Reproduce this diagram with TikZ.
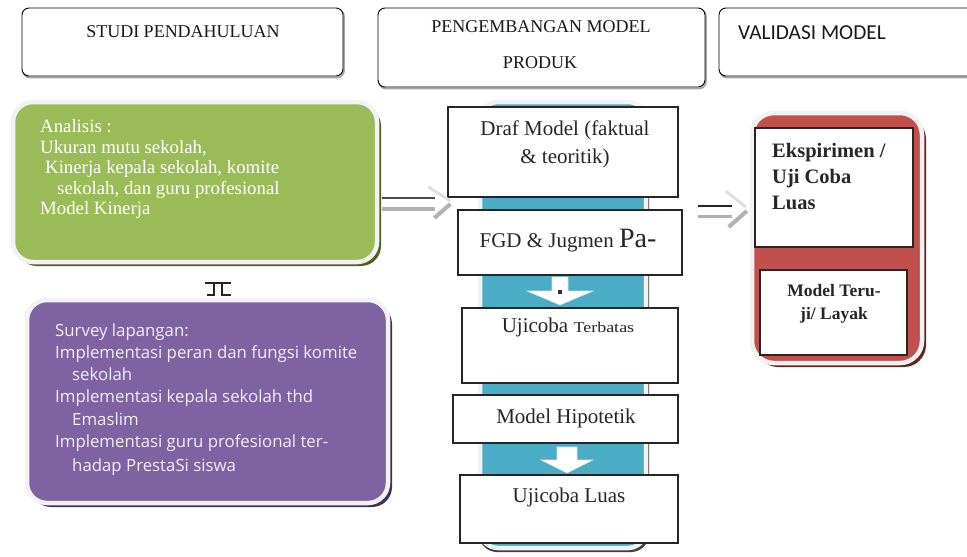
\documentclass[tikz,border=0pt]{standalone}
\usepackage{fontspec}
\usepackage{graphicx}
\setmainfont{Liberation Serif}
\newfontfamily\hdsans{Carlito}
\newfontfamily\opsans{Open Sans}
\usetikzlibrary{calc}
\definecolor{grn}{HTML}{9BBB59}
\definecolor{grnsh}{HTML}{4F6228}
\definecolor{purp}{HTML}{7F62A1}
\definecolor{purpsh}{HTML}{3F3151}
\definecolor{teal}{HTML}{4BACC6}
\definecolor{redb}{HTML}{C0504D}
\definecolor{redsh}{HTML}{632523}
\definecolor{lav}{HTML}{F2EFF7}
\definecolor{rim}{HTML}{F2F2F2}
\begin{document}
\begin{tikzpicture}[x=1pt,y=-1pt,
  hdrbox/.style={draw=black, line width=0.9pt, rounded corners=7pt, fill=white, inner sep=0pt},
  hdrshadow/.style={draw=gray!70, line width=1.8pt, rounded corners=7pt, inner sep=0pt},
  hdrtxt/.style={font=\fontsize{18}{22}\selectfont, inner sep=0pt, text=black!90},
  panelsh/.style={rounded corners=20pt, inner sep=0pt},
  panel/.style={draw=rim, line width=4.5pt, rounded corners=20pt, inner sep=0pt},
  stepbox/.style={draw=black!85, line width=1.3pt, fill=white, inner sep=0pt},
  steptxt/.style={font=\fontsize{21}{28}\selectfont, align=center, inner sep=0pt, text=black!85},
  downarr/.style={fill=white, draw=gray!25, line width=0.6pt},
]
\useasboundingbox (0,0) rectangle (967,557);
\fill[white] (0,0) rectangle (967,557);

% ---------- header boxes ----------
\node[hdrshadow, minimum width=321pt, minimum height=68pt] (h1s) at (183.5,43.5) {};
\node[hdrbox, minimum width=321pt, minimum height=68pt] (h1) at (182.5,42) {};
\node[hdrshadow, minimum width=327pt, minimum height=79pt] (h2s) at (542.5,49) {};
\node[hdrbox, minimum width=327pt, minimum height=79pt] (h2) at (541.5,47.5) {};
\node[hdrshadow, minimum width=271pt, minimum height=68pt] (h3s) at (855.5,43.5) {};
\node[hdrbox, minimum width=271pt, minimum height=68pt] (h3) at (854.5,42) {};

\node[hdrtxt] (t1) at (183,32) {STUDI PENDAHULUAN};
\node[hdrtxt] (t2a) at (541,27) {PENGEMBANGAN MODEL};
\node[hdrtxt] (t2b) at (540,63) {PRODUK};
\node[hdrtxt, anchor=west, font=\hdsans\fontsize{21.3}{22}\selectfont] (t3) at (738,33) {VALIDASI MODEL};

% ---------- green box ----------
\node[panelsh, fill=grnsh, minimum width=364pt, minimum height=160pt] (greensh) at (199,186) {};
\node[panel, fill=grn, minimum width=364pt, minimum height=160pt] (green) at (195,182) {};
\node[anchor=west, align=left, inner sep=0pt, text=white,
      font=\fontsize{18.8}{20.5}\selectfont] (gtext) at (40,169)
  {Analisis :\\
   Ukuran mutu sekolah,\\
   \hspace*{5pt}Kinerja kepala sekolah, komite\\
   \hspace*{17pt}sekolah, dan guru profesional\\
   Model Kinerja};

% ---------- purple box ----------
\node[panelsh, fill=purpsh, minimum width=361pt, minimum height=203pt] (purpsh) at (211.5,405.5) {};
\node[panel, fill=purp, minimum width=361pt, minimum height=203pt] (purple) at (207.5,401.5) {};
\node[anchor=west, align=left, inner sep=0pt, text=lav,
      font=\opsans\fontsize{16.8}{22.2}\selectfont] (ptext) at (55,399.5)
  {Survey lapangan:\\
   Implementasi peran dan fungsi komite\\
   \hspace*{17pt}sekolah\\
   Implementasi kepala sekolah thd\\
   \hspace*{17pt}Emaslim\\
   Implementasi guru profesional ter-\\[2pt]
   \hspace*{17pt}hadap PrestaSi siswa};

% connector symbol between green and purple
\coordinate (gp) at ($(green.south)!0.5!(purple.north)+(17,8)$);
\draw[black!85, line width=1.6pt]
  ($(gp)+(-13,-6)$) -- ($(gp)+(-4,-6)$) -- ($(gp)+(-4,6)$) -- ($(gp)+(-11,6)$)
  ($(gp)+(-4,-6)$) -- ($(gp)+(4,-6)$) -- ($(gp)+(4,6)$) -- ($(gp)+(13,6)$)
  ($(gp)+(4,-6)$) -- ($(gp)+(13,-6)$);

% ---------- middle panel ----------
\node[panelsh, fill=black!75, minimum width=170pt, minimum height=446pt, rounded corners=18pt] (midsh) at (564,329) {};
\node[panel, fill=teal, minimum width=166pt, minimum height=446pt, rounded corners=18pt] (mid) at (563,325) {};

% down arrows inside panel
\coordinate (d1) at (560,305);
\draw[downarr] ($(d1)+(-8,-28)$) -- ($(d1)+(-8,-14)$) -- ($(d1)+(-33,-14)$) -- (d1)
  -- ($(d1)+(33,-14)$) -- ($(d1)+(8,-14)$) -- ($(d1)+(8,-28)$) -- cycle;
\fill[black!80] ($(d1)+(-2,-15)$) rectangle ($(d1)+(2,-11)$);
\coordinate (d2) at (567,473);
\draw[downarr] ($(d2)+(-10,-26)$) -- ($(d2)+(-10,-13)$) -- ($(d2)+(-26,-13)$) -- (d2)
  -- ($(d2)+(26,-13)$) -- ($(d2)+(10,-13)$) -- ($(d2)+(10,-26)$) -- cycle;

\node[stepbox, minimum width=230pt, minimum height=90pt] (draf) at (563,152) {};
\node[steptxt] (draft) at (565,144) {Draf Model (faktual\\\& teoritik)};

\node[stepbox, minimum width=224pt, minimum height=65pt] (fgd) at (570,242.5) {};
\node[steptxt] (fgdt) at (568,241) {FGD \& Jugmen {\fontsize{28}{28}\selectfont Pa-}};

\node[stepbox, minimum width=216pt, minimum height=75pt] (ujt) at (570,345.5) {};
\node[steptxt] (ujtt) at (568,327) {Ujicoba \scalebox{1.2}[1]{\fontsize{15}{15}\selectfont Terbatas}};

\node[stepbox, minimum width=225pt, minimum height=48pt] (hip) at (565.5,419) {};
\node[steptxt] (hipt) at (566,418) {Model Hipotetik};

\node[stepbox, minimum width=218pt, minimum height=68pt] (luas) at (569,509) {};
\node[steptxt] (luast) at (569,497) {Ujicoba Luas};

% ---------- red box ----------
\node[panelsh, fill=redsh, minimum width=170pt, minimum height=250pt, rounded corners=22pt] (redsh) at (841,242) {};
\node[panel, fill=redb, minimum width=170pt, minimum height=250pt, rounded corners=22pt] (red) at (837,238) {};
\node[stepbox, minimum width=158pt, minimum height=119pt] (eks) at (834,187.5) {};
\node[anchor=west, align=left, inner sep=0pt, text=black!85,
      font=\bfseries\fontsize{20.5}{26}\selectfont] (ekst) at (772,176.5)
  {Ekspirimen /\\Uji Coba\\Luas};
\node[stepbox, minimum width=147pt, minimum height=85pt] (lay) at (833.5,312.5) {};
\node[align=center, inner sep=0pt, text=black!85,
      font=\bfseries\fontsize{17.5}{23}\selectfont] (layt) at (834,303.5)
  {Model Teru-\\ji/ Layak};

% ---------- horizontal arrows ----------
\coordinate (la) at ($(green.east)+(3,21)$);
\coordinate (lb) at ($(draf.south west)!0.5!(fgd.north west)+(0,0)$);
\coordinate (lt) at (lb |- la);
\draw[black!70, line width=1.5pt] ($(la)+(0,-5)$) -- ($(lt)+(-17,-5)$);
\draw[gray!60, line width=4pt] ($(la)+(0,6)$) -- ($(lt)+(-17,6)$);
\draw[gray!25, line width=3pt] ($(lt)+(-24,-16)$) -- ($(lt)+(-2,-2)$);
\draw[gray!60, line width=4pt] ($(lt)+(-18,15)$) -- ($(lt)+(-2,1)$);

\coordinate (ra) at ($(fgd.north east)+(15,-3)$);
\coordinate (rt) at ($(red.west)+(-1,-28)$);
\coordinate (rs) at (ra |- rt);
\draw[black!85, line width=2.2pt] ($(rs)+(0,-4)$) -- ($(rt)+(-17,-4)$);
\draw[gray!60, line width=3pt] ($(rs)+(0,6)$) -- ($(rt)+(-17,6)$);
\draw[gray!25, line width=3pt] ($(rt)+(-23,-19)$) -- ($(rt)+(-3,-3)$);
\draw[gray!60, line width=4pt] ($(rt)+(-20,17)$) -- ($(rt)+(-2,1)$);
\end{tikzpicture}
\end{document}
